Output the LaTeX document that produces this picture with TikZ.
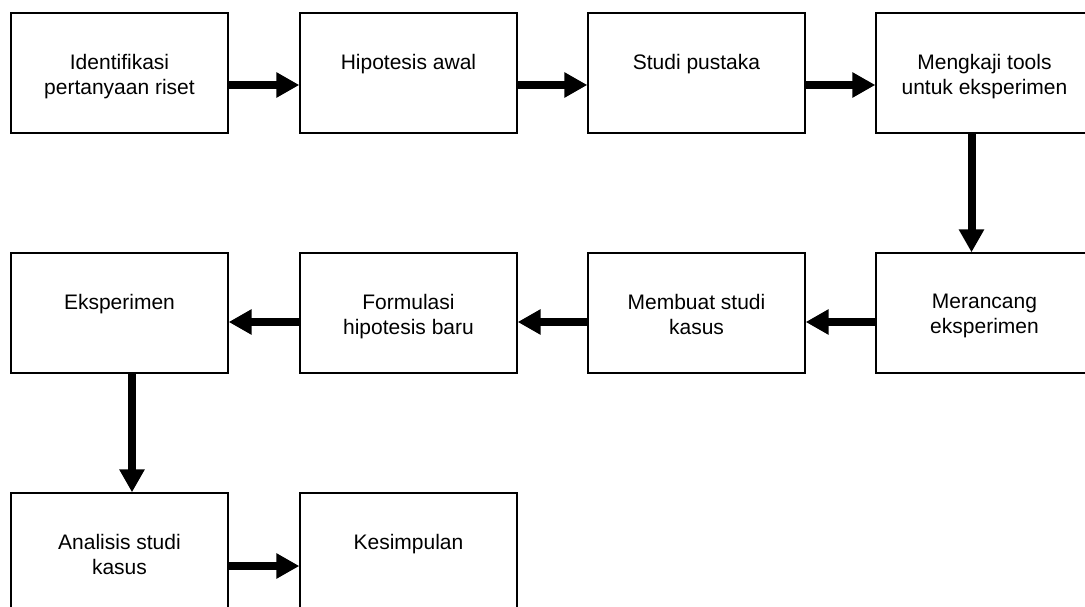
\documentclass[tikz,border=0pt]{standalone}
\usepackage{fontspec}
\setmainfont{Liberation Sans}
\usetikzlibrary{arrows.meta}

\begin{document}
\begin{tikzpicture}[x=1pt,y=-1pt,
  box/.style={draw,line width=1.3pt,minimum width=217pt,minimum height=120pt,inner sep=0pt},
  txt/.style={anchor=north,yshift=-42pt,inner sep=0pt,align=center,font=\fontsize{21}{25}\selectfont},
  flow/.style={line width=8pt,-{Triangle[length=23pt,width=24pt]}}]
\useasboundingbox (0,0) rectangle (1085,607);
\clip (0,0) rectangle (1085,607);
\node[box,label={[txt]north:{Identifikasi\\pertanyaan riset}}] (ident) at (119.5,73) {};
\node[box,label={[txt]north:{Hipotesis awal}}] (hipo) at (408.5,73) {};
\node[box,label={[txt]north:{Studi pustaka}}] (studi) at (696.5,73) {};
\node[box,label={[txt]north:{Mengkaji tools\\untuk eksperimen}}] (kaji) at (984.5,73) {};
\node[box,label={[txt]north:{Merancang\\eksperimen}}] (rancang) at (984.5,313) {};
\node[box,label={[txt]north:{Membuat studi\\kasus}}] (kasus) at (696.5,313) {};
\node[box,label={[txt]north:{Formulasi\\hipotesis baru}}] (formul) at (408.5,313) {};
\node[box,label={[txt]north:{Eksperimen}}] (eksp) at (119.5,313) {};
\node[box,label={[txt]north:{Analisis studi\\kasus}}] (anal) at (119.5,553) {};
\node[box,label={[txt]north:{Kesimpulan}}] (simpul) at (408.5,553) {};
\draw[flow] ([yshift=-12pt]ident.east) -- ([yshift=-12pt]hipo.west);
\draw[flow] ([yshift=-12pt]hipo.east) -- ([yshift=-12pt]studi.west);
\draw[flow] ([yshift=-12pt]studi.east) -- ([yshift=-12pt]kaji.west);
\draw[flow] ([xshift=-13pt]kaji.south) -- ([xshift=-13pt]rancang.north);
\draw[flow] ([yshift=-9pt]rancang.west) -- ([yshift=-9pt]kasus.east);
\draw[flow] ([yshift=-9pt]kasus.west) -- ([yshift=-9pt]formul.east);
\draw[flow] ([yshift=-9pt]formul.west) -- ([yshift=-9pt]eksp.east);
\draw[flow] ([xshift=12.5pt]eksp.south) -- ([xshift=12.5pt]anal.north);
\draw[flow] ([yshift=-13pt]anal.east) -- ([yshift=-13pt]simpul.west);
\end{tikzpicture}
\end{document}
